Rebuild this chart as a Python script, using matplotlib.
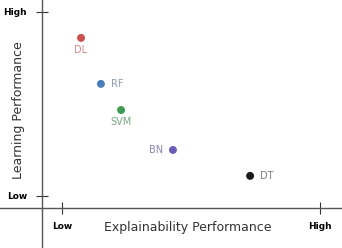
import matplotlib
matplotlib.use('Agg')
import matplotlib.pyplot as plt

# model positions (0 = Low, 10 = High)
models = ["DL", "RF", "SVM", "BN", "DT"]
explainability = [0.74, 1.51, 2.29, 4.30, 7.29]
learning = [8.59, 6.09, 4.67, 2.50, 1.09]
point_colors = ["#c9504f", "#4a7ebb", "#3f9a55", "#6a5bb5", "#1a1a1a"]
label_colors = ["#d58a88", "#8a9bb0", "#7aa684", "#8a86b0", "#7f7f7f"]
tick_names = ["Low", "High"]

fig = plt.figure(figsize=(3.42, 2.48), dpi=100)
ax = fig.add_axes([0, 0, 1, 1])
ax.set_xlim(-2.40, 10.85)
ax.set_ylim(-2.83, 10.65)

for s in ["top", "right"]:
    ax.spines[s].set_visible(False)
ax.spines["left"].set_position(("data", -0.79))
ax.spines["bottom"].set_position(("data", -0.65))
for s in ["left", "bottom"]:
    ax.spines[s].set_color("#555555")
    ax.spines[s].set_linewidth(1.0)

ax.set_xticks([0, 10])
ax.set_xticklabels(tick_names, fontsize=6.5, fontweight="bold")
ax.set_yticks([0, 10])
ax.set_yticklabels(tick_names, fontsize=6.5, fontweight="bold")
ax.tick_params(axis="x", direction="inout", length=9, width=0.8, pad=6,
               color="#333333")
ax.tick_params(axis="y", direction="inout", length=9, width=0.8, pad=6,
               color="#333333")

ax.scatter(explainability, learning, c=point_colors, s=22, zorder=3)

# label placement per point: (dx, dy, ha, va) in points
offsets = {
    "DL": (0, -5, "center", "top"),
    "RF": (7, 0, "left", "center"),
    "SVM": (0, -5, "center", "top"),
    "BN": (-7, 0, "right", "center"),
    "DT": (7, 0, "left", "center"),
}
for name, x, y, c in zip(models, explainability, learning, label_colors):
    dx, dy, ha, va = offsets[name]
    ax.annotate(name, (x, y), xytext=(dx, dy), textcoords="offset points",
                ha=ha, va=va, fontsize=7, color=c)

fig.text(188 / 342, 1 - 228 / 248, "Explainability Performance",
         ha="center", va="center", fontsize=9, color="#333333")
fig.text(19 / 342, 1 - 110 / 248, "Learning Performance", rotation=90,
         ha="center", va="center", fontsize=9, color="#333333")

fig.savefig("out.png", dpi=100)
